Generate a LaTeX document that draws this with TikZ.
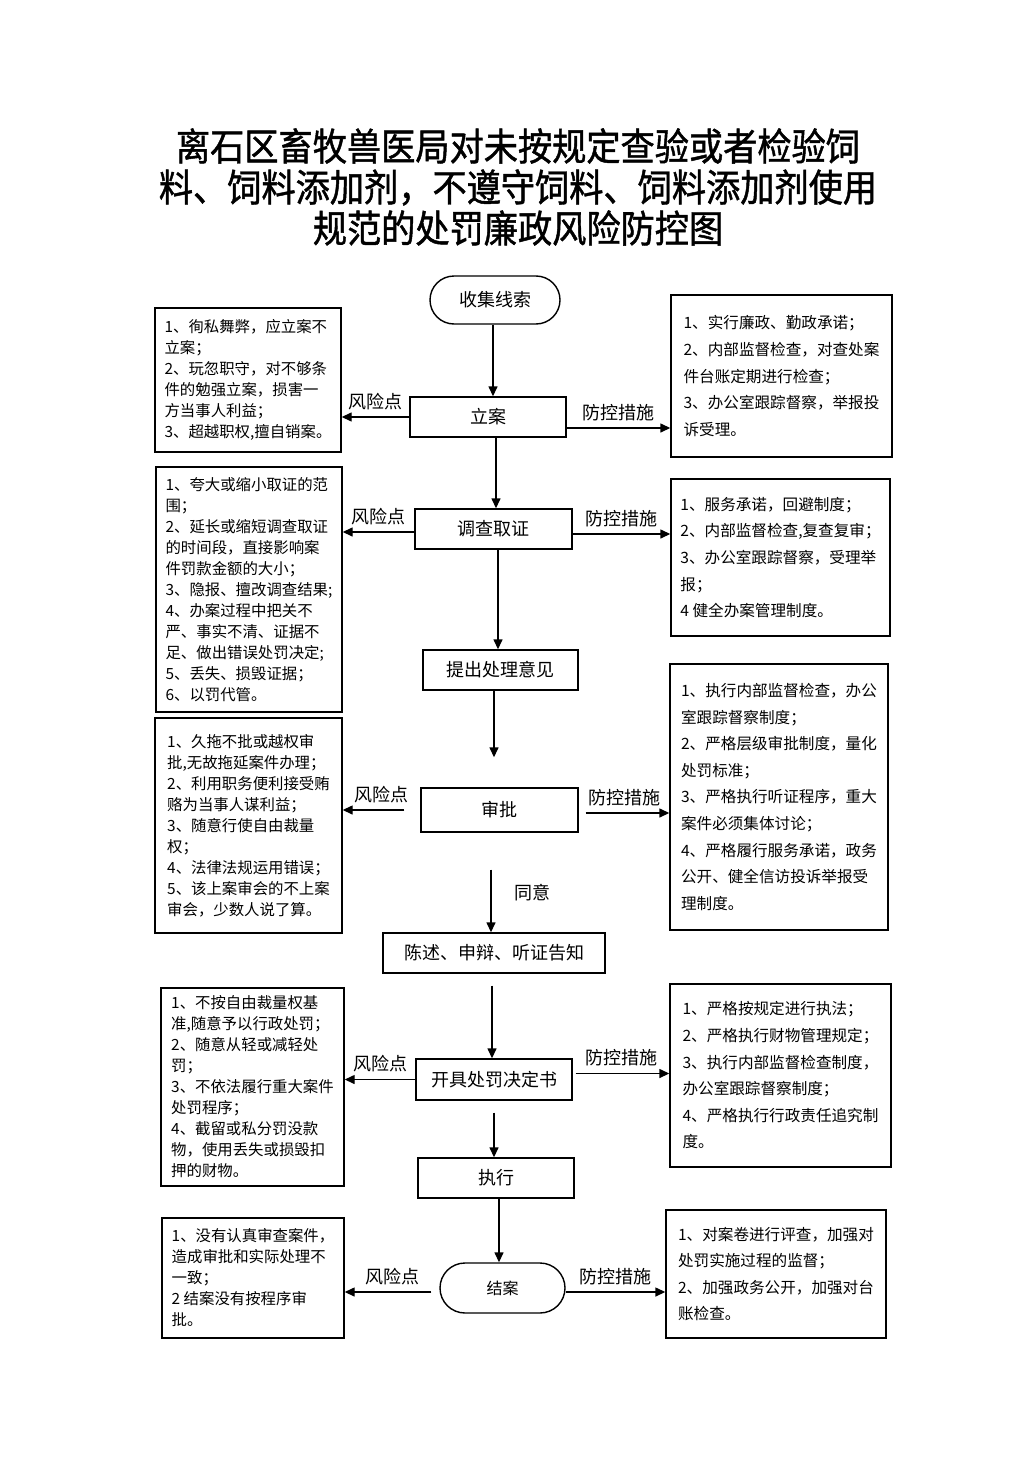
\documentclass[tikz,border=0pt]{standalone}
\usepackage{fontspec}
\setmainfont{Noto Sans CJK SC}
\newfontfamily\titlefont{Noto Sans CJK SC}[FakeStretch=0.9,FakeBold=1.2]
\usetikzlibrary{arrows.meta}
\begin{document}
\begin{tikzpicture}[x=.5pt,y=-.5pt,line width=.7pt,
  stepbox/.style={draw,inner sep=0pt,font=\fontsize{9}{11}\selectfont},
  endbox/.style={stepbox,rounded corners=12pt},
  riskbox/.style={draw,inner ysep=0pt,inner xsep=3pt,align=left,font=\fontsize{7.7}{10.5}\selectfont},
  ctrlbox/.style={draw,inner ysep=0pt,inner xsep=3pt,align=left,font=\fontsize{7.8}{13.3}\selectfont},
  arr/.style={-{Triangle[length=5pt,width=4.5pt]}},
  lbl/.style={above,font=\fontsize{9}{11}\selectfont}]
\useasboundingbox (0,0) rectangle (1033,1461);
\node[font=\titlefont\fontsize{19}{20.5}\selectfont,align=center] (title) at (518,187)
  {离石区畜牧兽医局对未按规定查验或者检验饲\\料、饲料添加剂，不遵守饲料、饲料添加剂使用\\规范的处罚廉政风险防控图};
\node[endbox,minimum width=65pt,minimum height=24pt] (shouji) at (495,300) {收集线索};
\node[stepbox,minimum width=78pt,minimum height=20pt] (lian) at (488,417) {立案};
\node[stepbox,minimum width=78.5pt,minimum height=20pt] (diaocha) at (493.5,529) {调查取证};
\node[stepbox,minimum width=77.5pt,minimum height=20pt] (tichu) at (500.5,670) {提出处理意见};
\node[stepbox,minimum width=78.5pt,minimum height=22pt] (shenpi) at (499.5,810) {审批};
\node[stepbox,minimum width=111pt,minimum height=20pt] (chenshu) at (494,953) {陈述、申辩、听证告知};
\node[stepbox,minimum width=78pt,minimum height=20.5pt] (kaiju) at (494,1079.5) {开具处罚决定书};
\node[stepbox,minimum width=78pt,minimum height=20pt] (zhixing) at (496,1178) {执行};
\node[endbox,rounded corners=12.5pt,minimum width=62.5pt,minimum height=25pt,font=\fontsize{8}{10}\selectfont] (jiean) at (502.5,1288) {结案};
\node[riskbox,minimum width=93pt,minimum height=72pt] (fx1) at (248,380)
  {1、徇私舞弊，应立案不\\立案；\\2、玩忽职守，对不够条\\件的勉强立案，损害一\\方当事人利益；\\3、超越职权,擅自销案。};
\node[ctrlbox,minimum width=110.5pt,minimum height=81pt] (fk1) at (781.5,376)
  {1、实行廉政、勤政承诺；\\2、内部监督检查，对查处案\\件台账定期进行检查；\\3、办公室跟踪督察，举报投\\诉受理。};
\node[riskbox,minimum width=93pt,minimum height=122.5pt] (fx2) at (249,589.5)
  {1、夸大或缩小取证的范\\围；\\2、延长或缩短调查取证\\的时间段，直接影响案\\件罚款金额的大小；\\3、隐报、擅改调查结果;\\4、办案过程中把关不\\严、事实不清、证据不\\足、做出错误处罚决定;\\5、丢失、损毁证据；\\6、以罚代管。};
\node[ctrlbox,minimum width=109.5pt,minimum height=78.5pt] (fk2) at (780.5,557.5)
  {1、服务承诺，回避制度；\\2、内部监督检查,复查复审；\\3、办公室跟踪督察，受理举\\报；\\4 健全办案管理制度。};
\node[riskbox,minimum width=93.5pt,minimum height=107.5pt] (fx3) at (248.5,825.5)
  {1、久拖不批或越权审\\批,无故拖延案件办理；\\2、利用职务便利接受贿\\赂为当事人谋利益；\\3、随意行使自由裁量\\权；\\4、法律法规运用错误；\\5、该上案审会的不上案\\审会，少数人说了算。};
\node[ctrlbox,minimum width=109pt,minimum height=133pt] (fk3) at (779,797)
  {1、执行内部监督检查，办公\\室跟踪督察制度；\\2、严格层级审批制度，量化\\处罚标准；\\3、严格执行听证程序，重大\\案件必须集体讨论；\\4、严格履行服务承诺，政务\\公开、健全信访投诉举报受\\理制度。};
\node[riskbox,minimum width=91.5pt,minimum height=99pt] (fx4) at (252.5,1087)
  {1、不按自由裁量权基\\准,随意予以行政处罚；\\2、随意从轻或减轻处\\罚；\\3、不依法履行重大案件\\处罚程序；\\4、截留或私分罚没款\\物，使用丢失或损毁扣\\押的财物。};
\node[ctrlbox,minimum width=110.5pt,minimum height=91.5pt] (fk4) at (780.5,1075.5)
  {1、严格按规定进行执法；\\2、严格执行财物管理规定；\\3、执行内部监督检查制度，\\办公室跟踪督察制度；\\4、严格执行行政责任追究制\\度。};
\node[riskbox,minimum width=91pt,minimum height=60pt] (fx5) at (253,1278)
  {1、没有认真审查案件，\\造成审批和实际处理不\\一致；\\2 结案没有按程序审\\批。};
\node[ctrlbox,minimum width=110pt,minimum height=64pt] (fk5) at (776,1274)
  {1、对案卷进行评查，加强对\\处罚实施过程的监督；\\2、加强政务公开，加强对台\\账检查。};
\draw[arr] ([xshift=-1pt]shouji.south) -- ([xshift=-1pt]shouji.south |- lian.north);
\draw[arr] ([xshift=4pt]lian.south) -- ([xshift=4pt]lian.south |- diaocha.north);
\draw[arr] ([xshift=2.25pt]diaocha.south) -- ([xshift=2.25pt]diaocha.south |- tichu.north);
\draw[arr,shorten >=15pt] ([xshift=-3.25pt]tichu.south) -- ([xshift=-3.25pt]tichu.south |- shenpi.north);
\draw[arr,shorten <=18.5pt] ([xshift=-4.25pt]shenpi.south) -- ([xshift=-4.25pt]shenpi.south |- chenshu.north)
  node[pos=.6,right=8pt,font=\fontsize{9}{11}\selectfont] {同意};
\draw[arr,shorten <=6pt] ([xshift=-1pt]chenshu.south) -- ([xshift=-1pt]chenshu.south |- kaiju.north);
\draw[arr,shorten <=6pt] (kaiju.south) -- (kaiju.south |- zhixing.north);
\draw[arr] ([xshift=1.5pt]zhixing.south) -- ([xshift=1.5pt]zhixing.south |- jiean.north);
\draw[arr] (lian.west) -- (lian.west -| fx1.east) node[lbl,midway] {风险点};
\draw[arr] ([yshift=-5.5pt]lian.east) -- ([yshift=-5.5pt]lian.east -| fk1.west) node[lbl,midway] {防控措施};
\draw[arr] ([yshift=-1.5pt]diaocha.west) -- ([yshift=-1.5pt]diaocha.west -| fx2.east) node[lbl,midway] {风险点};
\draw[arr] ([yshift=-2.5pt]diaocha.east) -- ([yshift=-2.5pt]diaocha.east -| fk2.west) node[lbl,midway] {防控措施};
\draw[arr,shorten <=8pt] (shenpi.west) -- (shenpi.west -| fx3.east) node[lbl,midway] {风险点};
\draw[arr,shorten <=3.5pt] ([yshift=-1.5pt]shenpi.east) -- ([yshift=-1.5pt]shenpi.east -| fk3.west) node[lbl,midway] {防控措施};
\draw[arr] (kaiju.west) -- (kaiju.west -| fx4.east) node[lbl,midway] {风险点};
\draw[arr,shorten <=1.5pt] ([yshift=3pt]kaiju.east) -- ([yshift=3pt]kaiju.east -| fk4.west) node[lbl,midway] {防控措施};
\draw[arr,shorten <=4pt] ([yshift=-2pt]jiean.west) -- ([yshift=-2pt]jiean.west -| fx5.east) node[lbl,midway] {风险点};
\draw[arr] ([yshift=-2pt]jiean.east) -- ([yshift=-2pt]jiean.east -| fk5.west) node[lbl,midway] {防控措施};
\end{tikzpicture}
\end{document}
